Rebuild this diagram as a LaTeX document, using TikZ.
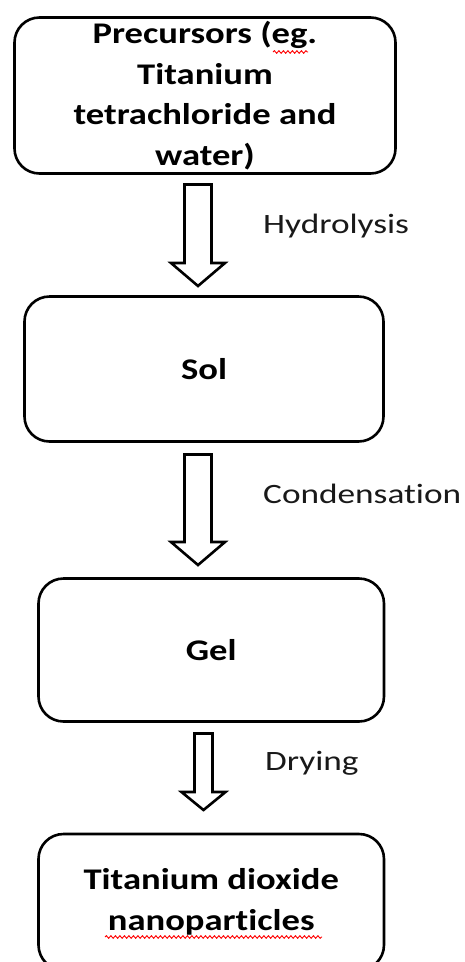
\documentclass[tikz,border=0pt]{standalone}
\usepackage{fontspec}
\setmainfont{Carlito}
\newfontfamily\boxfont[FakeStretch=1.22, Ligatures=NoCommon]{Carlito}
\newfontfamily\labfont[FakeStretch=1.26, Ligatures=NoCommon]{Carlito}
\usetikzlibrary{calc,decorations.pathmorphing}

\tikzset{
  stagebox/.style={draw=black, line width=2.6pt, rounded corners=25pt,
    fill=white, inner sep=0pt, align=center,
    font=\boxfont\bfseries\fontsize{30pt}{40.5pt}\selectfont},
  steplabel/.style={anchor=base west, inner sep=0pt, text=black!90,
    font=\labfont\fontsize{28pt}{32pt}\selectfont},
  % hollow block arrow: #1 half shaft width, #2 half head width, #3 head length
  blockarrow/.style n args={3}{draw=black, line width=2.6pt, fill=white,
    line join=miter,
    to path={let \p1=(\tikztostart), \p2=(\tikztotarget) in
      (\x1-#1,\y1) -- (\x1+#1,\y1) -- (\x1+#1,\y2+#3) -- (\x1+#2,\y2+#3)
      -- (\x2,\y2) -- (\x1-#2,\y2+#3) -- (\x1-#1,\y2+#3) -- cycle}},
  spellmark/.style={draw=red, line width=0.9pt,
    decorate, decoration={snake, segment length=4.5pt, amplitude=1.3pt}}
}

\begin{document}
\begin{tikzpicture}[x=1pt, y=-1pt]
  \clip (0,0) rectangle (465,962);
  \fill[white] (0,0) rectangle (465,962);

  % process stages
  \node[stagebox, minimum width=381pt, minimum height=156pt] (prec) at (205,95.5)
    {Precursors (eg.\\Titanium\\tetrachloride and\\water)};
  \node[stagebox, minimum width=359pt, minimum height=145pt] (sol) at (204,369)
    {Sol};
  \node[stagebox, minimum width=345.5pt, minimum height=143pt] (gel) at (211.25,650)
    {Gel};
  \node[stagebox, minimum width=345.5pt, minimum height=136pt] (tio) at (211.25,902)
    {Titanium dioxide\\nanoparticles};

  % arrow ends
  \coordinate (s1) at (198,184.5);   \coordinate (t1) at (198,286);
  \coordinate (s2) at (198,454.5);   \coordinate (t2) at (198,565);
  \coordinate (s3) at (203.5,733.5); \coordinate (t3) at (203.5,810);

  \draw[blockarrow={13.5pt}{27pt}{23pt}] (s1) to (t1);
  \draw[blockarrow={13.5pt}{27pt}{23pt}] (s2) to (t2);
  \draw[blockarrow={9pt}{22pt}{18pt}] (s3) to (t3);

  % step names
  \node[steplabel] (hyd) at (263,233) {Hydrolysis};
  \node[steplabel] (con) at (263,503) {Condensation};
  \node[steplabel] (dry) at (265,770) {Drying};

  % spell-check underlines
  \coordinate (w1a) at (273,52);  \coordinate (w1b) at (308,52);
  \coordinate (w2a) at (105,937); \coordinate (w2b) at (322,937);
  \draw[spellmark] (w1a) -- (w1b);
  \draw[spellmark] (w2a) -- (w2b);
\end{tikzpicture}
\end{document}
